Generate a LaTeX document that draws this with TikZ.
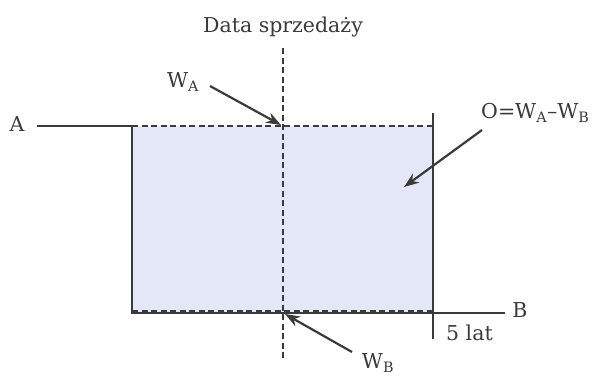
\documentclass[tikz,border=0pt]{standalone}
\usepackage{fontspec}
\setmainfont{DejaVu Serif}
\usetikzlibrary{arrows.meta}
\definecolor{ink}{HTML}{3A3A3A}
\definecolor{fillc}{HTML}{E4E7F7}
\begin{document}
\begin{tikzpicture}[x=1pt,y=-1pt,
  lbl/.style={text=ink,font=\fontsize{20.5}{24}\selectfont,inner sep=0pt},
  solidln/.style={draw=ink,line width=2.2pt},
  dashln/.style={draw=ink,line width=2.2pt,dash pattern=on 6pt off 3.5pt},
  arr/.style={draw=ink,line width=2.2pt,-{Stealth[length=15pt,width=11pt]}}]
\useasboundingbox (0,0) rectangle (604,376);
\fill[fillc] (132,126) rectangle (433,313);
% coordinates
\coordinate (a0) at (37,126);
\coordinate (tl) at (132,126);
\coordinate (tr) at (433,126);
\coordinate (rtop) at (433,113);
\coordinate (bl) at (132,313);
\coordinate (br) at (433,313);
\coordinate (btick) at (433,339);
\coordinate (bend) at (505,313);
\coordinate (vtop) at (283,48);
\coordinate (vbot) at (283,360);
\coordinate (wa) at (281,125);
\coordinate (wb) at (285,314);
\coordinate (oin) at (404,187);
% lines
\draw[solidln] (a0) -- (tl) -- (bl) -- (bend);
\draw[solidln] (rtop) -- (btick);
\draw[dashln] (tl) -- (tr);
\draw[dashln] (132,311) -- (433,311);
\draw[dashln] (vtop) -- (vbot);
% labels
\node[lbl] (title) at (283,27) {Data sprzedaży};
\node[lbl] (A) at (17,124) {A};
\node[lbl] (B) at (520,310) {B};
\node[lbl,anchor=west] (lat) at (446,333) {5 lat};
\node[lbl] (WA) at (183,82) {W\textsubscript{A}};
\node[lbl] (WB) at (378,363) {W\textsubscript{B}};
\node[lbl,anchor=west] (O) at (481,113) {O=W\textsubscript{A}–W\textsubscript{B}};
% arrows
\draw[arr] (210,86) -- (wa);
\draw[arr] (352,352) -- (wb);
\draw[arr] (482,130) -- (oin);
\end{tikzpicture}
\end{document}
